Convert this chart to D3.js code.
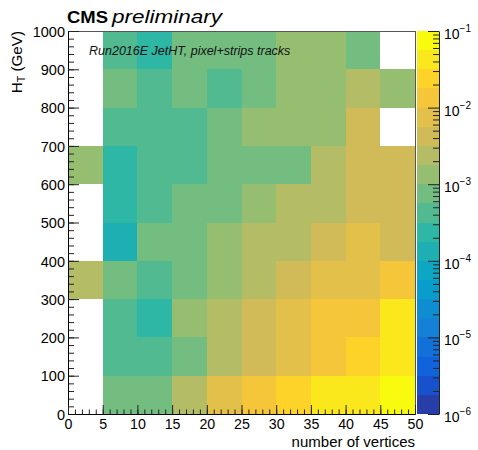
<!DOCTYPE html>
<html>
<head>
<meta charset="utf-8">
<script src="https://cdn.jsdelivr.net/npm/d3@7"></script>
<style>
  html, body { margin: 0; padding: 0; background: #fff; }
  svg { display: block; font-family: "Liberation Sans", Arial, Helvetica, sans-serif; }
</style>
</head>
<body>
<svg id="chart" width="478" height="450"></svg>
<script>
// ---------------- data ----------------
const vertexEdges = [0, 5, 10, 15, 20, 25, 30, 35, 40, 45, 50];
const htEdges = [0, 100, 200, 300, 400, 500, 600, 700, 800, 900, 1000];
const xTickLabels = ["0", "5", "10", "15", "20", "25", "30", "35", "40", "45", "50"];
const yTickLabels = ["0", "100", "200", "300", "400", "500", "600", "700", "800", "900", "1000"];
const zTickExponents = [-6, -5, -4, -3, -2, -1];

// fraction of events per (H_T bin, vertex bin); null = empty bin
const ht0to100    = [null, 7.4e-4, 7.6e-4, 2.4e-3, 7.4e-3, 1.32e-2, 2.35e-2, 4.2e-2, 4.3e-2, 7.6e-2];
const ht100to200  = [null, 4.2e-4, 4.3e-4, 7.5e-4, 2.35e-3, 4.2e-3, 7.4e-3, 1.33e-2, 2.36e-2, 4.2e-2];
const ht200to300  = [null, 4.1e-4, 2.4e-4, 1.33e-3, 2.36e-3, 4.2e-3, 7.5e-3, 1.32e-2, 1.34e-2, 4.2e-2];
const ht300to400  = [2.36e-3, 7.5e-4, 4.2e-4, 7.4e-4, 1.33e-3, 2.37e-3, 4.2e-3, 7.5e-3, 7.6e-3, 1.33e-2];
const ht400to500  = [null, 1.33e-4, 7.5e-4, 7.6e-4, 1.32e-3, 2.36e-3, 2.38e-3, 4.2e-3, 7.4e-3, 4.3e-3];
const ht500to600  = [null, 2.37e-4, 4.2e-4, 7.5e-4, 7.4e-4, 1.33e-3, 2.36e-3, 2.37e-3, 4.2e-3, 4.2e-3];
const ht600to700  = [1.33e-3, 2.36e-4, 4.2e-4, 4.3e-4, 7.5e-4, 7.4e-4, 7.6e-4, 2.37e-3, 4.2e-3, 4.1e-3];
const ht700to800  = [null, 4.2e-4, 4.1e-4, 4.3e-4, 7.5e-4, 1.33e-3, 1.32e-3, 1.34e-3, 4.2e-3, null];
const ht800to900  = [null, 7.5e-4, 4.2e-4, 7.4e-4, 4.2e-4, 7.6e-4, 1.33e-3, 1.32e-3, 2.37e-3, 1.33e-3];
const ht900to1000 = [null, 4.2e-4, 2.37e-4, 7.5e-4, 7.4e-4, 7.6e-4, 1.33e-3, 1.34e-3, 7.5e-4, null];
const fractionRows = [ht0to100, ht100to200, ht200to300, ht300to400, ht400to500,
                      ht500to600, ht600to700, ht700to800, ht800to900, ht900to1000];

// ROOT kBird palette stops
const birdStops = [0.0, 0.125, 0.25, 0.375, 0.5, 0.625, 0.75, 0.875, 1.0];
const birdR = [0.2082, 0.0592, 0.0780, 0.0232, 0.1802, 0.5301, 0.8186, 0.9956, 0.9764];
const birdG = [0.1664, 0.3599, 0.5041, 0.6419, 0.7178, 0.7492, 0.7328, 0.7862, 0.9832];
const birdB = [0.5293, 0.8684, 0.8385, 0.7914, 0.6425, 0.4662, 0.3499, 0.1968, 0.0539];

// ---------------- layout ----------------
const svg = d3.select("#chart");
const L = 68, R = 415, T = 31, B = 414;
const CB_L = 417, CB_R = 439;
const nContours = 20;

const x = d3.scaleLinear().domain([0, 50]).range([L, R]);
const y = d3.scaleLinear().domain([0, 1000]).range([B, T]);
const z = d3.scaleLog().domain([1e-6, 1e-1]).range([B, T]);

const bird = d3.scaleLinear()
  .domain(birdStops)
  .range(birdStops.map((s, i) => d3.rgb(birdR[i] * 255, birdG[i] * 255, birdB[i] * 255)))
  .interpolate(d3.interpolateRgb);

// contour levels (log spaced) and per-band colours like ROOT COLZ
const levelExp = d3.range(nContours + 1).map(i => -6 + i * 5 / nContours);
const levels = levelExp.map(e => Math.pow(10, e));
function bandColor(i) {
  const idx = Math.floor((i + 0.99) * 255 / nContours);
  return bird(Math.min(idx, 254) / 254);
}
const color = d3.scaleThreshold()
  .domain(levels.slice(1, nContours))
  .range(d3.range(nContours).map(bandColor));

// ---------------- cells ----------------
const cells = [];
fractionRows.forEach((row, r) => row.forEach((v, c) => {
  if (v !== null) cells.push({ r, c, v });
}));

svg.append("g").selectAll("rect").data(cells).join("rect")
  .attr("x", d => x(vertexEdges[d.c]))
  .attr("y", d => y(htEdges[d.r + 1]))
  .attr("width", d => x(vertexEdges[d.c + 1]) - x(vertexEdges[d.c]))
  .attr("height", d => y(htEdges[d.r]) - y(htEdges[d.r + 1]))
  .attr("fill", d => color(d.v))
  .attr("shape-rendering", "crispEdges");

// frame
svg.append("rect")
  .attr("x", L).attr("y", T).attr("width", R - L).attr("height", B - T)
  .attr("fill", "none").attr("stroke", "#555").attr("stroke-width", 1)
  .attr("shape-rendering", "crispEdges");

// ---------------- axes ----------------
const tickFont = 14.2;

// y minor
svg.append("g").attr("transform", `translate(${L},0)`)
  .call(d3.axisLeft(y).tickValues(d3.range(0, 1001, 20)).tickSizeInner(-6).tickSizeOuter(0).tickFormat(""))
  .call(g => g.select(".domain").remove())
  .call(g => g.selectAll("line").attr("stroke", "#222"));
// y major
svg.append("g").attr("transform", `translate(${L},0)`)
  .call(d3.axisLeft(y).tickValues(htEdges).tickSizeInner(-11).tickSizeOuter(0).tickPadding(3)
    .tickFormat((d, i) => yTickLabels[i]))
  .call(g => g.select(".domain").attr("stroke", "#000"))
  .call(g => g.selectAll("line").attr("stroke", "#222"))
  .call(g => g.selectAll("text").attr("font-size", 14.5).attr("fill", "#000")
    .attr("font-family", "Liberation Sans, Arial, sans-serif").attr("dy", "0.36em"));

// x minor
svg.append("g").attr("transform", `translate(0,${B})`)
  .call(d3.axisBottom(x).tickValues(d3.range(0, 51, 1)).tickSizeInner(-4.5).tickSizeOuter(0).tickFormat(""))
  .call(g => g.select(".domain").remove())
  .call(g => g.selectAll("line").attr("stroke", "#222"));
// x major
svg.append("g").attr("transform", `translate(0,${B})`)
  .call(d3.axisBottom(x).tickValues(vertexEdges).tickSizeInner(-9).tickSizeOuter(0).tickPadding(5)
    .tickFormat((d, i) => xTickLabels[i]))
  .call(g => g.select(".domain").attr("stroke", "#000"))
  .call(g => g.selectAll("line").attr("stroke", "#222"))
  .call(g => g.selectAll("text").attr("font-size", tickFont).attr("fill", "#000")
    .attr("font-family", "Liberation Sans, Arial, sans-serif"));

// axis titles
svg.append("text")
  .attr("x", R).attr("y", 447)
  .attr("text-anchor", "end").attr("font-size", 15)
  .text("number of vertices");

const yTitle = svg.append("text")
  .attr("transform", `translate(22,${T}) rotate(-90)`)
  .attr("text-anchor", "end").attr("font-size", 15.2);
yTitle.append("tspan").text("H");
yTitle.append("tspan").attr("font-size", 10.5).attr("dy", 3).text("T");
yTitle.append("tspan").attr("dy", -3).text(" (GeV)");

// ---------------- colour bar ----------------
svg.append("g").selectAll("rect").data(d3.range(nContours)).join("rect")
  .attr("x", CB_L).attr("width", CB_R - CB_L)
  .attr("y", i => z(levels[i + 1]))
  .attr("height", i => z(levels[i]) - z(levels[i + 1]))
  .attr("fill", i => bandColor(i))
  .attr("shape-rendering", "crispEdges");

const zMinor = [];
zTickExponents.slice(0, -1).forEach(e => {
  for (let m = 2; m <= 9; m++) zMinor.push(m * Math.pow(10, e));
});
svg.append("g").attr("transform", `translate(${CB_R},0)`)
  .call(d3.axisRight(z).tickValues(zMinor).tickSizeInner(-6).tickSizeOuter(0).tickFormat(""))
  .call(g => g.select(".domain").remove())
  .call(g => g.selectAll("line").attr("stroke", "#222"));
svg.append("g").attr("transform", `translate(${CB_R},0)`)
  .call(d3.axisRight(z).tickValues(zTickExponents.map(e => Math.pow(10, e))).tickSizeInner(-11).tickSizeOuter(0).tickFormat(""))
  .call(g => g.select(".domain").attr("stroke", "#222"))
  .call(g => g.selectAll("line").attr("stroke", "#222"));

const zLab = svg.append("g").selectAll("text").data(zTickExponents).join("text")
  .attr("x", 444).attr("y", e => z(Math.pow(10, e)) + 8)
  .attr("font-size", 14);
zLab.append("tspan").text("10");
zLab.append("tspan").attr("font-size", 10).attr("dy", -7).text(e => "\u2212" + Math.abs(e));

// ---------------- titles ----------------
svg.append("text")
  .attr("x", 67).attr("y", 23)
  .attr("font-size", 17).attr("font-weight", "bold")
  .attr("textLength", 41).attr("lengthAdjust", "spacingAndGlyphs")
  .text("CMS");
svg.append("text")
  .attr("x", 112).attr("y", 23)
  .attr("font-size", 19).attr("font-style", "italic")
  .attr("textLength", 110).attr("lengthAdjust", "spacingAndGlyphs")
  .text("preliminary");

svg.append("text")
  .attr("x", 89).attr("y", 55)
  .attr("font-size", 12.5).attr("font-style", "italic").attr("fill", "#111")
  .text("Run2016E JetHT, pixel+strips tracks");
</script>
</body>
</html>
